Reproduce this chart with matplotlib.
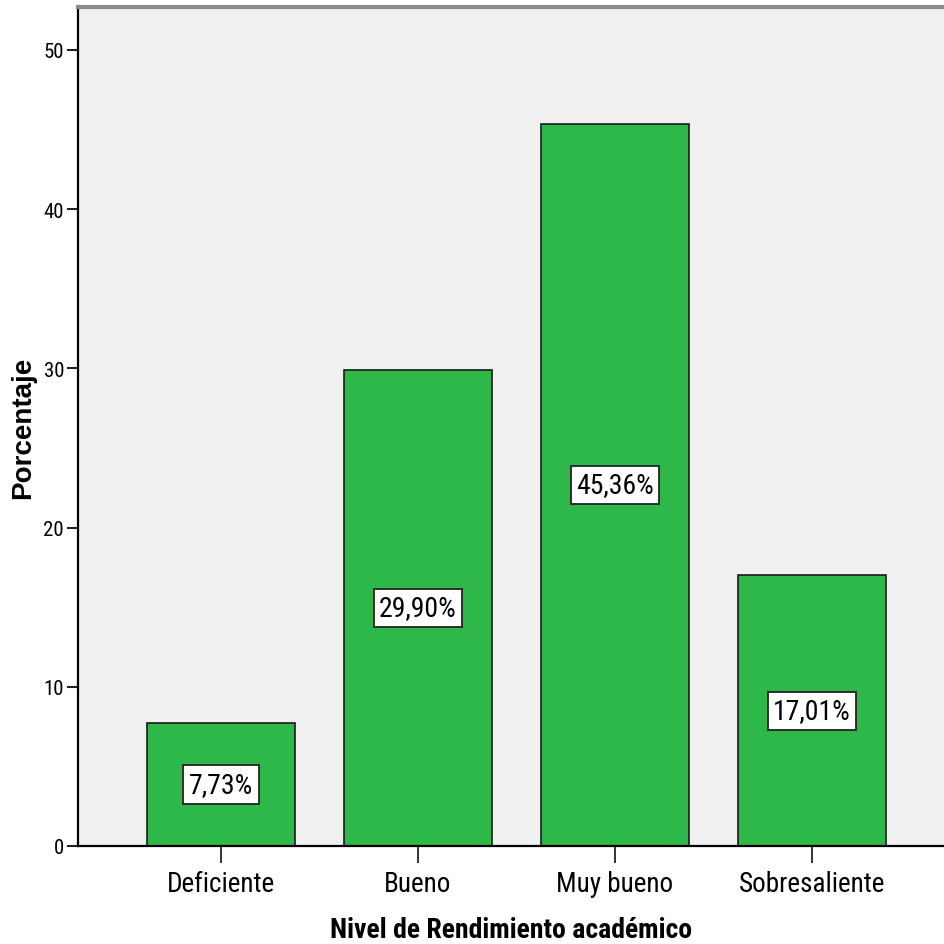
import matplotlib
matplotlib.use("Agg")
import matplotlib.pyplot as plt

categories = ["Deficiente", "Bueno", "Muy bueno", "Sobresaliente"]
percentages = [7.73, 29.90, 45.36, 17.01]
bar_labels = ["7,73%", "29,90%", "45,36%", "17,01%"]
y_ticks = [0, 10, 20, 30, 40, 50]

narrow = "Roboto Condensed"
bold_font = "Liberation Sans"

fig = plt.figure(figsize=(9.44, 9.45), dpi=100)
ax = fig.add_axes([78 / 944, 1 - 847 / 945, 1 - 78 / 944, (847 - 8) / 945])
ax.set_facecolor("#f0f0f0")

x = list(range(len(categories)))
ax.bar(x, percentages, width=0.751, color="#2fb84a", edgecolor="#1a1a1a",
       linewidth=1.2, zorder=2)

for i, (val, lab) in enumerate(zip(percentages, bar_labels)):
    ax.text(i, val / 2, lab, ha="center", va="center", family=narrow, fontsize=20,
            zorder=3,
            bbox=dict(boxstyle="square,pad=0.2", fc="white", ec="#222222", lw=1.3))

ax.set_xlim(-0.726, 3.67)
ax.set_ylim(0, 52.7)
ax.set_xticks(x)
ax.set_xticklabels(categories, family=narrow, fontsize=19.5)
ax.set_yticks(y_ticks)
ax.set_yticklabels([str(t) for t in y_ticks], family=narrow, fontsize=15)
ax.tick_params(axis="x", length=12, width=1.3, pad=5, color="#222222")
ax.tick_params(axis="y", length=8, width=1.5, pad=2, color="#222222")

ax.spines["right"].set_visible(False)
ax.spines["left"].set_linewidth(1.6)
ax.spines["bottom"].set_linewidth(1.6)
ax.spines["top"].set_color("#8c8c8c")
ax.spines["top"].set_linewidth(3)

ax.set_xlabel("Nivel de Rendimiento académico", family=narrow, fontweight="bold",
              fontsize=20, labelpad=14)
ax.set_ylabel("Porcentaje", family=bold_font, fontweight="bold", fontsize=20,
              labelpad=5)

fig.savefig("out.png", dpi=100)
